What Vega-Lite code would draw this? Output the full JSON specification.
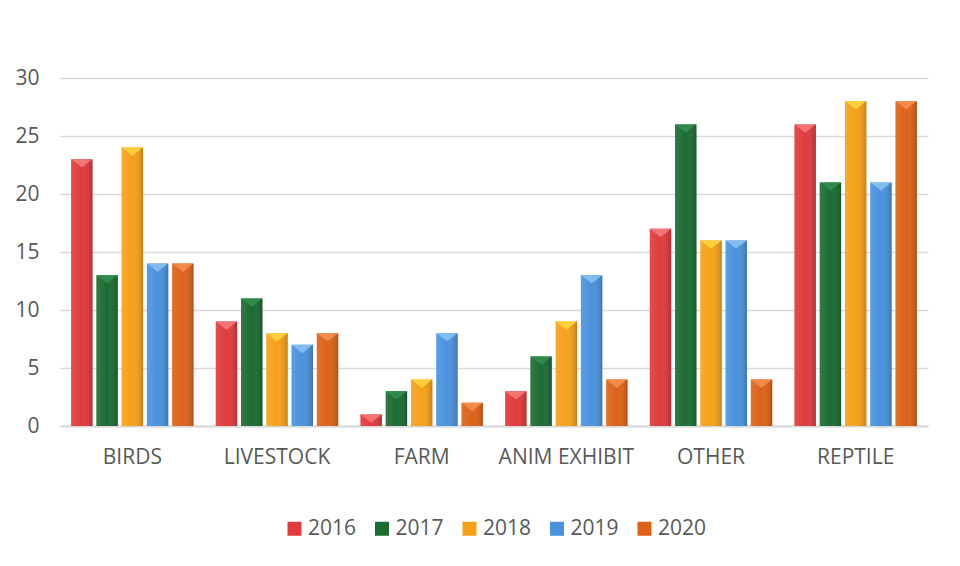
{
  "$schema": "https://vega.github.io/schema/vega-lite/v6.json",
  "width": 868,
  "height": 348,
  "autosize": {"type": "none"},
  "padding": {"left": 60, "top": 78, "right": 32, "bottom": 140},
  "background": "white",
  "config": {
    "view": {"stroke": null},
    "font": "Open Sans"
  },
  "data": {
    "values": [
      {"cat": "BIRDS", "year": "2016", "v": 23},
      {"cat": "BIRDS", "year": "2017", "v": 13},
      {"cat": "BIRDS", "year": "2018", "v": 24},
      {"cat": "BIRDS", "year": "2019", "v": 14},
      {"cat": "BIRDS", "year": "2020", "v": 14},
      {"cat": "LIVESTOCK", "year": "2016", "v": 9},
      {"cat": "LIVESTOCK", "year": "2017", "v": 11},
      {"cat": "LIVESTOCK", "year": "2018", "v": 8},
      {"cat": "LIVESTOCK", "year": "2019", "v": 7},
      {"cat": "LIVESTOCK", "year": "2020", "v": 8},
      {"cat": "FARM", "year": "2016", "v": 1},
      {"cat": "FARM", "year": "2017", "v": 3},
      {"cat": "FARM", "year": "2018", "v": 4},
      {"cat": "FARM", "year": "2019", "v": 8},
      {"cat": "FARM", "year": "2020", "v": 2},
      {"cat": "ANIM EXHIBIT", "year": "2016", "v": 3},
      {"cat": "ANIM EXHIBIT", "year": "2017", "v": 6},
      {"cat": "ANIM EXHIBIT", "year": "2018", "v": 9},
      {"cat": "ANIM EXHIBIT", "year": "2019", "v": 13},
      {"cat": "ANIM EXHIBIT", "year": "2020", "v": 4},
      {"cat": "OTHER", "year": "2016", "v": 17},
      {"cat": "OTHER", "year": "2017", "v": 26},
      {"cat": "OTHER", "year": "2018", "v": 16},
      {"cat": "OTHER", "year": "2019", "v": 16},
      {"cat": "OTHER", "year": "2020", "v": 4},
      {"cat": "REPTILE", "year": "2016", "v": 26},
      {"cat": "REPTILE", "year": "2017", "v": 21},
      {"cat": "REPTILE", "year": "2018", "v": 28},
      {"cat": "REPTILE", "year": "2019", "v": 21},
      {"cat": "REPTILE", "year": "2020", "v": 28}
    ]
  },
  "encoding": {
    "x": {
      "field": "cat",
      "type": "nominal",
      "sort": ["BIRDS", "LIVESTOCK", "FARM", "ANIM EXHIBIT", "OTHER", "REPTILE"],
      "scale": {"paddingInner": 0.127, "paddingOuter": 0.0635},
      "axis": {
        "title": null,
        "labelAngle": 0,
        "labelFontSize": 21,
        "labelColor": "#595959",
        "ticks": false,
        "tickSize": 0,
        "domainColor": "#d9d9d9",
        "domainWidth": 2,
        "labelPadding": 20
      }
    },
    "xOffset": {
      "field": "year",
      "type": "nominal",
      "scale": {"paddingInner": 0.15, "paddingOuter": 0.075}
    },
    "y": {
      "field": "v",
      "type": "quantitative",
      "scale": {"domain": [0, 30]},
      "axis": {
        "title": null,
        "values": [0, 5, 10, 15, 20, 25, 30],
        "domain": false,
        "ticks": false,
        "tickSize": 0,
        "labelFontSize": 21,
        "labelColor": "#595959",
        "gridColor": "#d9d9d9",
        "gridWidth": 1.5,
        "labelPadding": 21
      }
    }
  },
  "layer": [
    {
      "mark": {"type": "bar"},
      "encoding": {
        "color": {
          "field": "year",
          "type": "nominal",
          "scale": {"range": ["#df3a3c", "#1c6b33", "#f5a01a", "#4a92dc", "#dc6219"]},
          "legend": {
            "title": null,
            "orient": "none",
            "legendX": 224,
            "legendY": 440,
            "direction": "horizontal",
            "symbolType": "square",
            "symbolSize": 196,
            "symbolStrokeWidth": 0,
            "labelFontSize": 21,
            "labelColor": "#595959",
            "labelOffset": 3,
            "columnPadding": 14.5
          }
        }
      }
    },
    {
      "mark": {
        "type": "bar",
        "color": {
          "gradient": "linear",
          "x1": 0, "x2": 1, "y1": 0, "y2": 0,
          "stops": [
            {"offset": 0, "color": "rgba(255,255,255,0.10)"},
            {"offset": 0.5, "color": "rgba(255,255,255,0)"},
            {"offset": 1, "color": "rgba(0,0,0,0.20)"}
          ]
        }
      }
    },
    {
      "mark": {"type": "point", "shape": "M-1,0L1,0L0,0.8Z", "size": 440, "filled": true, "opacity": 1, "strokeWidth": 0},
      "encoding": {
        "fill": {
          "field": "year",
          "type": "nominal",
          "scale": {"range": ["#f27474", "#2f8a4a", "#fcd03a", "#82bbf0", "#f28a4a"]},
          "legend": null
        }
      }
    }
  ]
}
